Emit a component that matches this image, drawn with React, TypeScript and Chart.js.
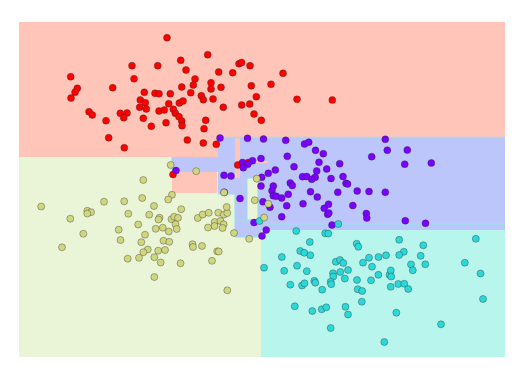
import React, { useEffect, useRef } from "react";
import { Chart, registerables } from "chart.js";

Chart.register(...registerables);

// Data units: horizontal feature (x) and vertical feature (y, increasing downward)
const X_RANGE = [19, 505];
const Y_RANGE = [22, 357];

const classNames = ["class 0", "class 1", "class 2", "class 3"];
const pointColors = ["#7a00ff", "#2bd8d8", "#d0d67e", "#ff0000"];
const regionColors = ["#bcc6fa", "#b8f5ec", "#eaf5d8", "#fec5b8"];

// [x0, x1, y0, y1, class]
const regionRects: number[][] = [
  [19, 505, 22, 157, 3],
  [19, 261, 157, 357, 2],
  [218, 505, 137, 230, 0],
  [261, 505, 230, 357, 1],
  [235, 240, 137, 178, 3],
  [250, 268, 161, 163, 3],
  [172, 218, 157, 172, 0],
  [172, 217, 172, 193, 3],
  [218, 235, 194, 230, 2],
  [235, 261, 230, 237, 0],
  [247, 258, 178, 220, 2],
];

// boundary artefact lines [x0, y0, x1, y1]
const edgeLines: number[][] = [
  [268, 224, 505, 224],
  [218, 137.5, 505, 137.5],
  [247, 178, 258, 178],
  [247, 178, 247, 220],
  [258, 178, 258, 220],
  [235, 220, 268, 220],
  [172, 157, 172, 172],
  [218, 194, 235, 194],
  [235, 194, 235, 237],
  [235, 237, 261, 237],
];

const class0: number[][] = [
  [220, 138], [247.5, 138.3], [263.5, 139], [285.7, 140.3], [304.5, 144], [308.7, 142.2],
  [385.3, 139.3], [315.5, 150.3], [323.3, 153.7], [387.3, 150.2], [407.3, 150], [287.3, 156.3],
  [371.7, 156.7], [261, 158.5], [252.5, 160.7], [242.5, 162.5], [247.7, 164.3], [243.3, 167.7],
  [319, 162.3], [339.7, 163.7], [294, 166.7], [404.7, 164.2], [431.3, 163], [275.3, 170],
  [326.7, 169], [316.7, 171], [268.3, 173.3], [224, 175.3], [231, 176], [176, 170.5],
  [261.7, 177.3], [302.5, 176.7], [306.7, 176.5], [315.2, 177.3], [311.7, 179.3], [331, 178.5],
  [343, 176.5], [290.3, 183], [292.3, 185.5], [346, 183.3], [347.5, 184], [261, 186],
  [273.3, 186], [272, 190.7], [310.5, 191.7], [337.8, 192.2], [357.2, 191], [369, 191.5],
  [385.3, 192.2], [224.3, 192.3], [273.3, 195.8], [276.3, 196.2], [281.7, 198], [288.2, 194.3],
  [317.3, 197], [240, 198.5], [263, 201.7], [270, 207.3], [286.7, 205.7], [303, 203.7],
  [328.5, 204.2], [352.8, 205.5], [324.2, 208.3], [327.7, 214.3], [328.8, 213], [366.3, 213.5],
  [366.8, 218], [281.7, 216.7], [254, 222.5], [332, 225], [405.3, 220.7], [425.5, 223.3],
  [266.2, 230], [262, 236],
];

const class1: number[][] = [
  [259.5, 221], [338.3, 224], [296.2, 231], [325.2, 233.3], [328.3, 233.6], [399.2, 239.8],
  [475.8, 238.8], [309.8, 242], [356.7, 243.7], [358.3, 246.8], [423.3, 245.3], [300.2, 251],
  [304.3, 252.8], [310.3, 255.2], [281.8, 257], [403.8, 251.8], [399.2, 255], [386, 255.3],
  [378.5, 257], [369, 257.7], [420.7, 255.8], [264, 267.7], [284.2, 270.8], [297, 265.7],
  [306.8, 271.2], [335.8, 261.8], [340, 260], [343.3, 263], [363, 262.7], [372, 266.7],
  [411, 264.4], [412.8, 270.3], [425.3, 264.3], [464.8, 262.7], [480.5, 273.5], [333, 273.3],
  [333.3, 276.5], [330.7, 281.8], [331.2, 284.2], [340.3, 272], [348, 270], [344.8, 278.5],
  [357, 280], [371, 280.3], [378.4, 274.8], [389.5, 274.8], [390.8, 270.4], [391.2, 276.5],
  [398.3, 284], [404.3, 283.8], [390.7, 286.8], [408.2, 289], [290.3, 284.7], [302, 285.5],
  [304.5, 283.3], [314.3, 280.8], [315.3, 282.7], [322.2, 289.7], [357.7, 289.3], [362.2, 291],
  [361.8, 301.7], [294.8, 306.3], [312.3, 311], [321.7, 309.3], [326.3, 307.3], [345.5, 306.8],
  [348, 314.5], [396.3, 312.7], [483, 299], [441, 324.3], [330.7, 328], [384.3, 342],
];

const class2: number[][] = [
  [170.7, 165], [196.2, 171.2], [143.3, 180], [256.7, 178.7], [172, 194.8], [168.2, 199.5],
  [142.2, 198], [124.2, 201.3], [104, 201.7], [41.2, 206.5], [154, 206], [181.2, 209.2],
  [87.3, 210.8], [91, 212.2], [87.3, 213.6], [128.3, 213.7], [149.2, 214.7], [159.5, 217.7],
  [158.5, 219.5], [70.3, 218.7], [171.5, 219.2], [174.2, 216.7], [178, 217.8], [175.5, 224.3],
  [176.7, 229], [197.8, 218], [202.7, 214.5], [208.7, 212.8], [218.3, 212.7], [223.8, 214.6],
  [227.3, 213], [226.7, 207], [214.7, 222], [220.5, 221], [223.7, 224.3], [214.5, 226],
  [222.5, 228], [208, 227.5], [234, 233], [254.7, 200.2], [264.2, 217.5], [268.3, 203.8],
  [224, 192.5], [249.2, 238.8], [138.2, 224.5], [118.7, 229.7], [155.7, 228.8], [162.8, 227.7],
  [168.8, 231.5], [145, 234.7], [83.3, 233.7], [120.5, 240], [141.3, 242.2], [163.5, 240.7],
  [169.3, 241.8], [192.5, 244.2], [193, 247], [202, 246], [62, 247.3], [147.8, 249.5],
  [143.3, 252.2], [158.2, 250.7], [165, 250], [217.2, 251.3], [218.7, 251.5], [127.7, 258.7],
  [139, 257.8], [154.3, 257.2], [160.7, 262.5], [180.5, 263.3], [212, 260.8], [154.3, 277],
  [227.3, 290.3],
];

const class3: number[][] = [
  [167, 37.7], [207.7, 54.7], [132, 65.7], [157.7, 65.7], [180.7, 60.3], [186, 70],
  [239, 63.7], [241.5, 62.5], [250, 65.7], [218.7, 72], [232.7, 72.7], [283, 73.3],
  [70.7, 76.7], [134, 78.7], [195, 79], [193.3, 85], [211, 82.7], [211, 89],
  [221, 87.3], [251.3, 85.7], [271, 84.3], [77.3, 88.3], [75, 92.3], [71, 98],
  [112.7, 87.7], [181.7, 87], [144.3, 92.3], [155, 93.3], [159, 93.7], [170.3, 93.7],
  [190.7, 92.7], [201.3, 95.7], [203.3, 99.7], [213, 99], [256.3, 96.7], [297, 99.3],
  [332.3, 100], [140.3, 100], [145.3, 102.7], [168.7, 103.7], [179.3, 103], [183, 101],
  [139.7, 107.3], [146.3, 109], [159, 111], [164.3, 110], [173.3, 109.3], [175.3, 113.3],
  [179, 116.7], [223.3, 107.3], [241.7, 105], [249.7, 104], [254, 114], [261.3, 120.3],
  [89, 111.7], [92.3, 115], [120.3, 113.3], [127, 113], [123.7, 117.7], [106, 120.7],
  [143.3, 118.3], [166, 122.7], [181.7, 121], [182, 125.7], [205.7, 120.3], [204, 128.7],
  [151.3, 126.3], [108.7, 137.7], [187.3, 140], [203.3, 143], [216.3, 144.3], [124.3, 147.7],
  [237.7, 165], [248.3, 162.5], [173, 174.5],
];

const classPoints = [class0, class1, class2, class3];
const drawOrder = [2, 1, 0, 3];

const regionPlugin = {
  id: "regions",
  beforeDatasetsDraw(chart: any) {
    const { ctx, scales, chartArea } = chart;
    const xs = scales.x;
    const ys = scales.y;
    ctx.save();
    ctx.beginPath();
    ctx.rect(chartArea.left, chartArea.top, chartArea.right - chartArea.left, chartArea.bottom - chartArea.top);
    ctx.clip();
    for (const r of regionRects) {
      const x0 = xs.getPixelForValue(r[0]);
      const x1 = xs.getPixelForValue(r[1]);
      const y0 = ys.getPixelForValue(r[2]);
      const y1 = ys.getPixelForValue(r[3]);
      ctx.fillStyle = regionColors[r[4]];
      ctx.fillRect(Math.min(x0, x1), Math.min(y0, y1), Math.abs(x1 - x0), Math.abs(y1 - y0));
    }
    ctx.strokeStyle = "rgba(150,225,235,0.85)";
    ctx.lineWidth = 1.3;
    for (const l of edgeLines) {
      ctx.beginPath();
      ctx.moveTo(xs.getPixelForValue(l[0]), ys.getPixelForValue(l[1]));
      ctx.lineTo(xs.getPixelForValue(l[2]), ys.getPixelForValue(l[3]));
      ctx.stroke();
    }
    ctx.restore();
  },
};

export default function App() {
  const canvasRef = useRef<HTMLCanvasElement | null>(null);

  useEffect(() => {
    if (!canvasRef.current) return;
    const datasets = drawOrder.map((c) => ({
      label: classNames[c],
      data: classPoints[c].map((p) => ({ x: p[0], y: p[1] })),
      backgroundColor: pointColors[c],
      borderColor: "rgba(40,40,40,0.45)",
      borderWidth: 0.8,
      pointRadius: 3.5,
      pointHoverRadius: 3.5,
    }));
    const chart = new Chart(canvasRef.current, {
      type: "scatter",
      data: { datasets },
      options: {
        animation: false,
        responsive: false,
        devicePixelRatio: 1,
        layout: { padding: { left: 19, top: 22, right: 16, bottom: 24 } },
        plugins: { legend: { display: false }, tooltip: { enabled: false } },
        scales: {
          x: { type: "linear", min: X_RANGE[0], max: X_RANGE[1], display: false },
          y: { type: "linear", min: Y_RANGE[0], max: Y_RANGE[1], reverse: true, display: false },
        },
      },
      plugins: [regionPlugin],
    });
    return () => chart.destroy();
  }, []);

  return (
    <div style={{ position: "absolute", left: 0, top: 0, width: 521, height: 381, background: "#fff" }}>
      <canvas ref={canvasRef} width={521} height={381} style={{ width: 521, height: 381, display: "block" }} />
    </div>
  );
}
